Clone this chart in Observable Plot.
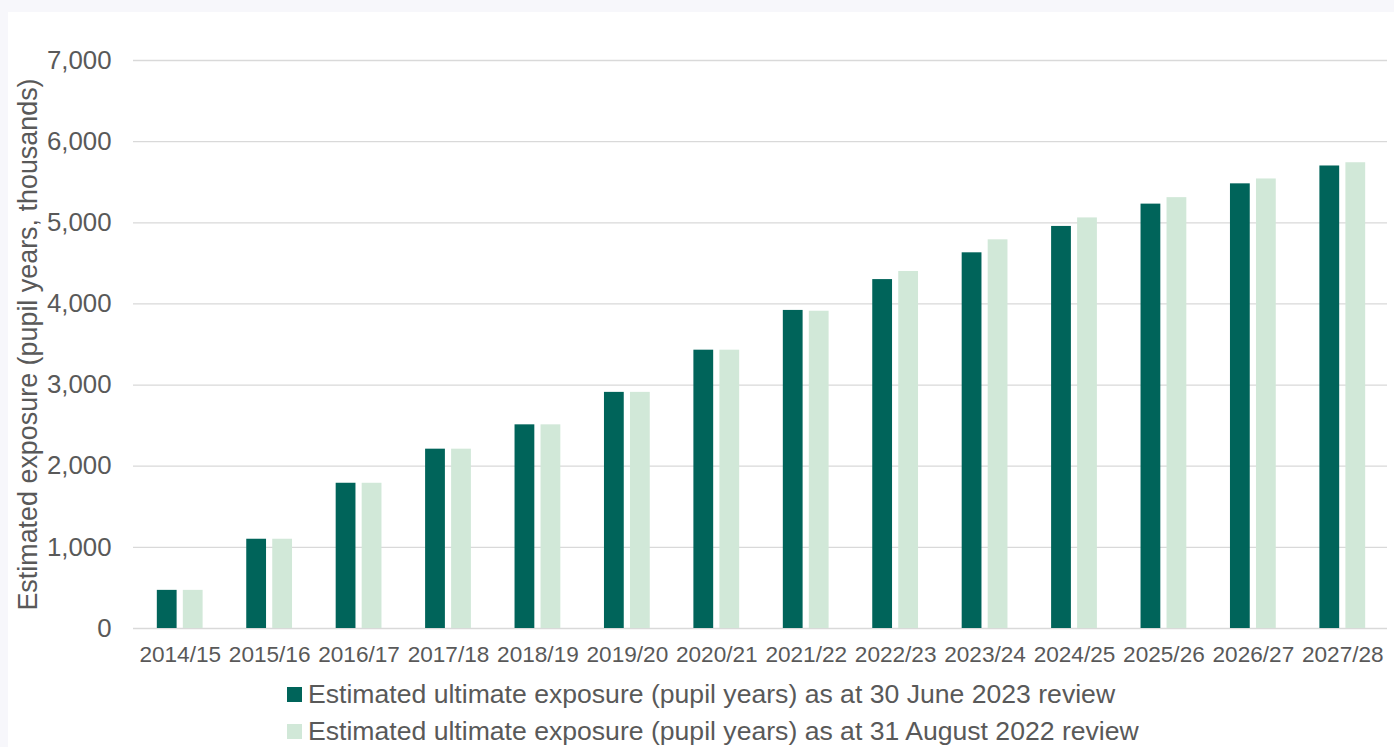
<!DOCTYPE html>
<html>
<head>
<meta charset="utf-8">
<script src="https://cdn.jsdelivr.net/npm/d3@7"></script>
<script src="https://cdn.jsdelivr.net/npm/@observablehq/plot@0.6"></script>
<style>
  html, body { margin: 0; padding: 0; background: #f7f7fb; width: 1394px; height: 747px; overflow: hidden; }
  #card { position: absolute; left: 8px; top: 12px; width: 1386px; height: 735px; background: #ffffff; }
  #legend { position: absolute; left: 287px; top: 676px; font-family: "Liberation Sans", Arial, sans-serif; font-size: 26.6px; color: #595959; }
  .row { display: flex; align-items: center; height: 37px; white-space: nowrap; }
  .sw { width: 15px; height: 15px; margin-right: 6px; flex: none; }
</style>
</head>
<body>
<div id="card"></div>
<div id="legend"></div>
<script>
const years = ["2014/15","2015/16","2016/17","2017/18","2018/19","2019/20","2020/21","2021/22","2022/23","2023/24","2024/25","2025/26","2026/27","2027/28"];
const june2023 = [470, 1100, 1790, 2210, 2510, 2910, 3430, 3920, 4300, 4630, 4955, 5230, 5480, 5700];
const aug2022  = [470, 1100, 1790, 2210, 2510, 2910, 3430, 3910, 4400, 4790, 5060, 5310, 5540, 5740];
const seriesNames = [
  "Estimated ultimate exposure (pupil years) as at 30 June 2023 review",
  "Estimated ultimate exposure (pupil years) as at 31 August 2022 review"
];
const seriesColors = ["#00645a", "#d1e8d8"];
const yTicks = [0, 1000, 2000, 3000, 4000, 5000, 6000, 7000];
const yTitle = "Estimated exposure (pupil years, thousands)";

const dataA = years.map((y, i) => ({year: y, value: june2023[i]}));
const dataB = years.map((y, i) => ({year: y, value: aug2022[i]}));

const chart = Plot.plot({
  width: 1386,
  height: 670,
  marginLeft: 127,
  marginRight: 7,
  marginTop: 48,
  marginBottom: 54,
  style: {fontFamily: "Liberation Sans, Arial, sans-serif", color: "#595959", background: "#ffffff"},
  x: {domain: years, paddingInner: 0.488, paddingOuter: 0.244, round: false, label: null},
  y: {domain: [0, 7000], label: null},
  marks: [
    Plot.ruleY(yTicks, {stroke: "#d9d9d9", strokeWidth: 1.3, insetLeft: -2}),
    Plot.barY(dataA, {x: "year", y: "value", fill: seriesColors[0], insetRight: 26}),
    Plot.barY(dataB, {x: "year", y: "value", fill: seriesColors[1], insetLeft: 26}),
    Plot.axisY({ticks: yTicks, tickSize: 0, tickPadding: 24, tickFormat: d3.format(","), fontSize: 25.8, label: null}),
    Plot.axisX({tickSize: 0, tickPadding: 17, fontSize: 22.6, label: null}),
    Plot.text([yTitle], {frameAnchor: "left", dx: -107, rotate: -90, fontSize: 26.9, textAnchor: "middle", fill: "#595959"})
  ]
});
document.getElementById("card").appendChild(chart);

const legend = document.getElementById("legend");
seriesNames.forEach((name, i) => {
  const row = document.createElement("div");
  row.className = "row";
  const sw = document.createElement("span");
  sw.className = "sw";
  sw.style.background = seriesColors[i];
  const t = document.createElement("span");
  t.textContent = name;
  row.appendChild(sw);
  row.appendChild(t);
  legend.appendChild(row);
});
</script>
</body>
</html>
